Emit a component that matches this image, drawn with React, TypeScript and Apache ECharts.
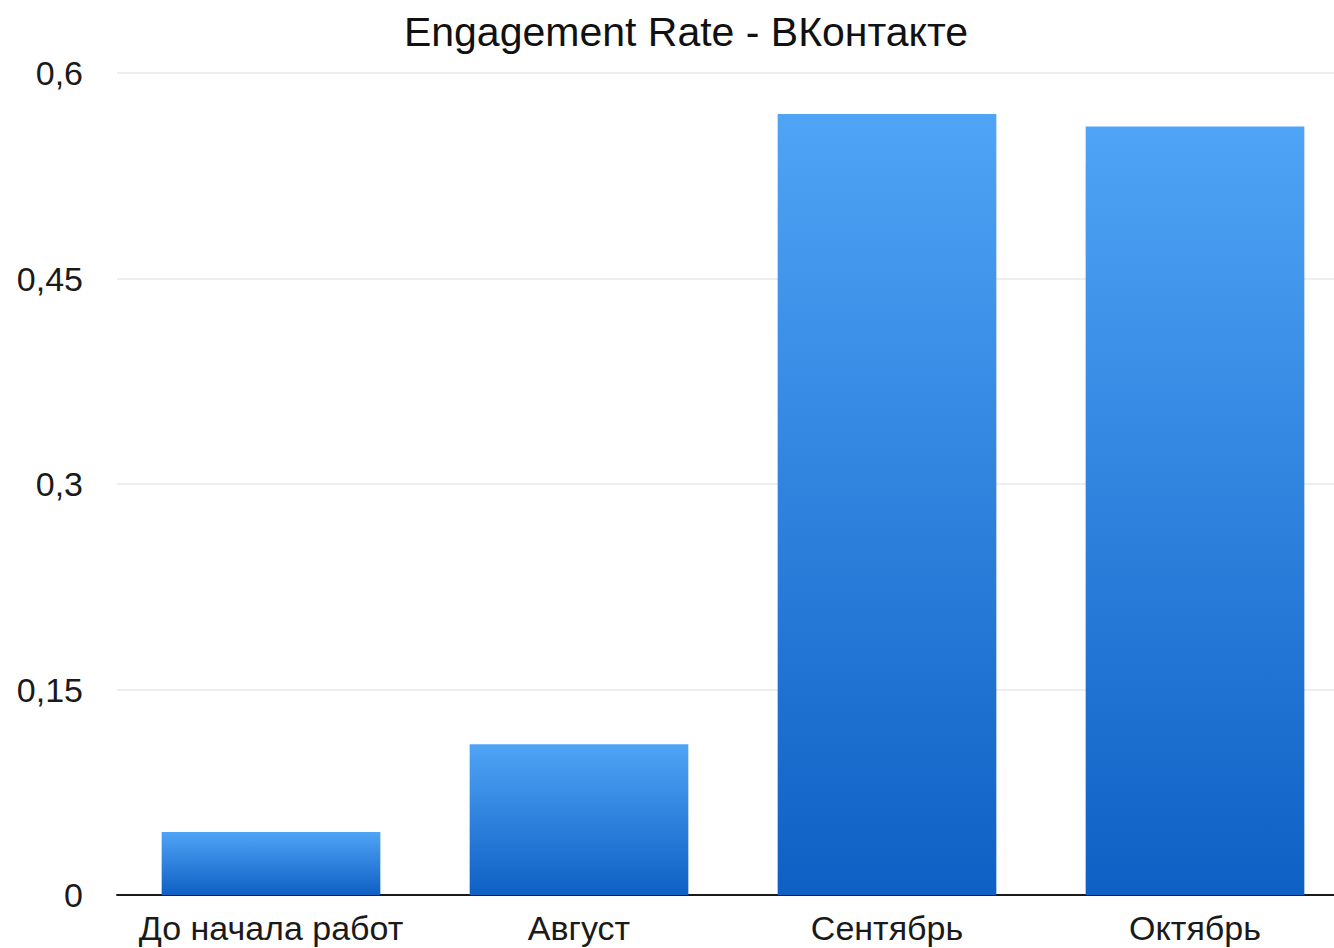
import React, { useEffect, useRef } from "react";
import * as echarts from "echarts";

const categories = ["До начала работ", "Август", "Сентябрь", "Октябрь"];
const values = [0.046, 0.11, 0.57, 0.561];
const yTicks = [0, 0.15, 0.3, 0.45, 0.6];
const titleText = "Engagement Rate - ВКонтакте";

const FONT = "'Liberation Sans', Arial, Helvetica, sans-serif";

export default function App() {
  const ref = useRef<HTMLDivElement>(null);
  useEffect(() => {
    if (!ref.current) return;
    const chart = echarts.init(ref.current, undefined, { renderer: "svg" });
    chart.setOption({
      animation: false,
      backgroundColor: "#ffffff",
      title: {
        text: titleText,
        left: 681,
        textAlign: "center",
        top: 6,
        textStyle: { fontFamily: FONT, fontSize: 41, fontWeight: "normal", color: "#111111" },
      },
      grid: { left: 117, right: 1, top: 73, bottom: 53, containLabel: false },
      xAxis: {
        type: "category",
        data: categories,
        axisLine: { show: true, lineStyle: { color: "#1a1a1a", width: 2 } },
        axisTick: { show: false },
        axisLabel: {
          fontFamily: FONT,
          fontSize: 34,
          color: "#1a1a1a",
          margin: 16,
          interval: 0,
          hideOverlap: false,
        },
      },
      yAxis: {
        type: "value",
        min: 0,
        max: 0.6,
        interval: 0.15,
        axisLine: { show: false },
        axisTick: { show: false },
        splitLine: { show: true, lineStyle: { color: "#e8e8e8", width: 1.5 } },
        axisLabel: {
          fontFamily: FONT,
          fontSize: 34,
          color: "#1a1a1a",
          margin: 34,
          formatter: (v: number) => {
            const t = yTicks.find((x) => Math.abs(x - v) < 1e-9);
            return String(t !== undefined ? t : v).replace(".", ",");
          },
        },
      },
      series: [
        {
          type: "bar",
          data: values,
          barWidth: "71%",
          itemStyle: {
            color: new echarts.graphic.LinearGradient(0, 0, 0, 1, [
              { offset: 0, color: "#4fa4f6" },
              { offset: 1, color: "#0e60c4" },
            ]),
          },
        },
      ],
    });
    return () => chart.dispose();
  }, []);
  return (
    <div
      style={{ position: "absolute", left: 0, top: 0, width: 1334, height: 948, overflow: "hidden" }}
    >
      <div ref={ref} style={{ width: 1350, height: 948 }} />
    </div>
  );
}
